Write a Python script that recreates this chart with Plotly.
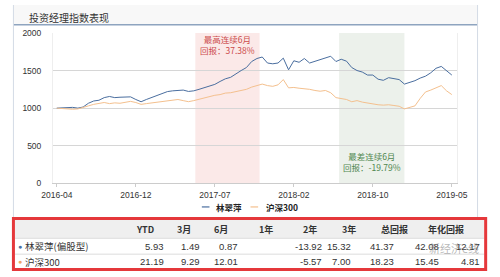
import plotly.graph_objects as go

# ---------------- data ----------------
tick_labels = ["2016-04", "2016-12", "2017-07", "2018-02", "2018-10", "2019-05"]
points_per_tick = 15

manager_index = [1000, 1005, 1008, 1010, 1000, 1015, 1065, 1095, 1105, 1140,
                 1155, 1140, 1145, 1150, 1150, 1115, 1085, 1115, 1140, 1165,
                 1195, 1220, 1230, 1235, 1240, 1222, 1230, 1250, 1275, 1295,
                 1316, 1355, 1390, 1410, 1460, 1500, 1540, 1620, 1660, 1680,
                 1600, 1590, 1600, 1665, 1510, 1630, 1610, 1660, 1600, 1620,
                 1650, 1670, 1690, 1620, 1650, 1625, 1540, 1500, 1480, 1440,
                 1440, 1385, 1370, 1405, 1395, 1380, 1320, 1340, 1365, 1400,
                 1425, 1470, 1530, 1555, 1500, 1440]
hs300_index = [1000, 995, 990, 985, 990, 1005, 1030, 1050, 1065, 1075,
               1060, 1070, 1065, 1080, 1090, 1075, 1050, 1060, 1070, 1075,
               1085, 1095, 1105, 1115, 1100, 1086, 1100, 1120, 1140, 1155,
               1171, 1180, 1200, 1205, 1220, 1231, 1250, 1280, 1305, 1320,
               1300, 1290, 1310, 1380, 1270, 1275, 1265, 1260, 1250, 1235,
               1225, 1235, 1205, 1140, 1130, 1115, 1085, 1100, 1080, 1065,
               1050, 1045, 1040, 1045, 1035, 1025, 990, 1005, 1030, 1130,
               1215, 1240, 1265, 1300, 1230, 1180]
series_names = ["林翠萍", "沪深300"]

best_label = "最高连续6月<br>回报：37.38%"
worst_label = "最差连续6月<br>回报：-19.79%"
best_span = [26.3, 38.5]
worst_span = [53.6, 66.0]

table_headers = ["YTD", "3月", "6月", "1年", "2年", "3年", "总回报", "年化回报"]
row_names = ["林翠萍(偏股型)", "沪深300"]
row_manager = ["5.93", "1.49", "0.87", "-13.92", "15.32", "41.37", "42.08", "12.17"]
row_hs300 = ["21.19", "9.29", "12.01", "-5.57", "7.00", "18.23", "15.45", "4.81"]

title_text = "投资经理指数表现"
watermark = "新经济e线"

# ---------------- styling ----------------
W, H = 500, 277
BLUE = "#4a6e9f"
ORANGE = "#f4c08e"
CJK = "Noto Sans CJK SC"
NUM = "Liberation Sans"


def px(x):
    return x / W


def py(y):
    return 1 - y / H


x_idx = list(range(len(manager_index)))

fig = go.Figure()
fig.add_trace(go.Scatter(x=x_idx, y=manager_index, mode="lines", name=series_names[0],
                         line=dict(color=BLUE, width=1), showlegend=False))
fig.add_trace(go.Scatter(x=x_idx, y=hs300_index, mode="lines", name=series_names[1],
                         line=dict(color=ORANGE, width=1), showlegend=False))

shapes = []
annotations = []

# header bar of the panel
shapes.append(dict(type="rect", xref="paper", yref="paper", x0=px(1.5), x1=px(488), y0=py(20.5), y1=py(0),
                   fillcolor="#f8f8f8", line=dict(width=0), layer="below"))
shapes.append(dict(type="line", xref="paper", yref="paper", x0=px(1.5), x1=px(488), y0=py(20.5), y1=py(20.5),
                   line=dict(color="#8ea4bf", width=1.5)))
shapes.append(dict(type="line", xref="paper", yref="paper", x0=px(1.5), x1=px(1.5), y0=py(0), y1=py(221),
                   line=dict(color="#d3dbe5", width=1)))
shapes.append(dict(type="line", xref="paper", yref="paper", x0=px(488), x1=px(488), y0=py(0), y1=py(221),
                   line=dict(color="#d3dbe5", width=1)))
annotations.append(dict(text=title_text, xref="paper", yref="paper", x=px(16), y=py(12.5),
                        xanchor="left", yanchor="middle", showarrow=False,
                        font=dict(family=CJK, size=10, color="#333333")))

# highlighted periods
shapes.append(dict(type="rect", xref="x", yref="y", x0=best_span[0], x1=best_span[1], y0=0, y1=2000,
                   fillcolor="#fbe9e8", line=dict(width=0), layer="below"))
shapes.append(dict(type="rect", xref="x", yref="y", x0=worst_span[0], x1=worst_span[1], y0=0, y1=2000,
                   fillcolor="#ecf1eb", line=dict(width=0), layer="below"))
annotations.append(dict(text=best_label, xref="x", yref="paper", x=(best_span[0] + best_span[1]) / 2,
                        y=py(41), xanchor="center", yanchor="middle", showarrow=False,
                        font=dict(family=CJK, size=8.5, color="#cc4b4b")))
annotations.append(dict(text=worst_label, xref="x", yref="paper", x=(worst_span[0] + worst_span[1]) / 2,
                        y=py(162.5), xanchor="center", yanchor="middle", showarrow=False,
                        font=dict(family=CJK, size=8.5, color="#4f874f")))

# legend (manual)
for (x0, x1, tx, col, name) in [(199, 207, 212, BLUE, series_names[0]), (250, 258, 264, ORANGE, series_names[1])]:
    shapes.append(dict(type="line", xref="paper", yref="paper", x0=px(x0), x1=px(x1), y0=py(209.5), y1=py(209.5),
                       line=dict(color=col, width=1.2)))
    annotations.append(dict(text="<b>" + name + "</b>", xref="paper", yref="paper", x=px(tx), y=py(209.5),
                            xanchor="left", yanchor="middle", showarrow=False,
                            font=dict(family=CJK, size=8.5, color="#222222")))

# ---------------- table ----------------
shapes.append(dict(type="rect", xref="paper", yref="paper", x0=px(3), x1=px(495), y0=py(242), y1=py(223),
                   fillcolor="#efefef", line=dict(width=0)))
for yy in [242, 258.5]:
    shapes.append(dict(type="line", xref="paper", yref="paper", x0=px(3), x1=px(495), y0=py(yy), y1=py(yy),
                       line=dict(color="#dcdcdc", width=1)))
shapes.append(dict(type="rect", xref="paper", yref="paper", x0=px(1.5), x1=px(496.5), y0=py(274.5), y1=py(221.5),
                   line=dict(color="#e5383b", width=3)))

header_centers = [139, 180.5, 219.5, 266.5, 312.5, 353, 400.5, 455]
value_rights = [161, 199, 239, 327, 357, 403, 450, 493]
for h, cx in zip(table_headers, header_centers):
    annotations.append(dict(text="<b>" + h + "</b>", xref="paper", yref="paper", x=px(cx), y=py(233),
                            xanchor="center", yanchor="middle", showarrow=False,
                            font=dict(family=CJK, size=9, color="#333333")))
for row_y, name, vals, col in [(250.5, row_names[0], row_manager, BLUE), (266.5, row_names[1], row_hs300, "#f0a868")]:
    annotations.append(dict(text="●", xref="paper", yref="paper", x=px(8.5), y=py(row_y),
                            xanchor="center", yanchor="middle", showarrow=False,
                            font=dict(family=NUM, size=7, color=col)))
    annotations.append(dict(text=name, xref="paper", yref="paper", x=px(11.5), y=py(row_y),
                            xanchor="left", yanchor="middle", showarrow=False,
                            font=dict(family=CJK, size=9.5, color="#333333")))
    for v, rx in zip(vals, value_rights):
        annotations.append(dict(text=v, xref="paper", yref="paper", x=px(rx), y=py(row_y),
                                xanchor="right", yanchor="middle", showarrow=False,
                                font=dict(family=NUM, size=9.5, color="#333333")))

annotations.append(dict(text=watermark, xref="paper", yref="paper", x=px(463), y=py(252),
                        xanchor="center", yanchor="middle", showarrow=False,
                        font=dict(family=CJK, size=11, color="rgba(110,110,110,0.5)")))

fig.update_layout(
    width=W, height=H,
    margin=dict(l=0, r=0, t=0, b=0),
    paper_bgcolor="white", plot_bgcolor="white",
    shapes=shapes, annotations=annotations,
    showlegend=False,
    xaxis=dict(domain=[px(43), px(466)], range=[-0.72, 75.9],
               tickmode="array",
               tickvals=[i * points_per_tick for i in range(len(tick_labels))],
               ticktext=tick_labels,
               showgrid=False, zeroline=False,
               showline=True, linecolor="#cccccc", linewidth=1,
               ticks="outside", ticklen=3, tickcolor="#cccccc",
               tickfont=dict(family=NUM, size=8.5, color="#333333")),
    yaxis=dict(domain=[py(185), py(29)], range=[0, 2000],
               tickvals=[0, 500, 1000, 1500, 2000],
               showgrid=True, gridcolor="#d6d6d6", gridwidth=1,
               zeroline=False, showline=True, linecolor="#eeeeee", mirror=True,
               ticks="outside", ticklen=9, tickcolor="rgba(0,0,0,0)",
               tickfont=dict(family=NUM, size=8.5, color="#333333")),
)

fig.write_html("out.html")
